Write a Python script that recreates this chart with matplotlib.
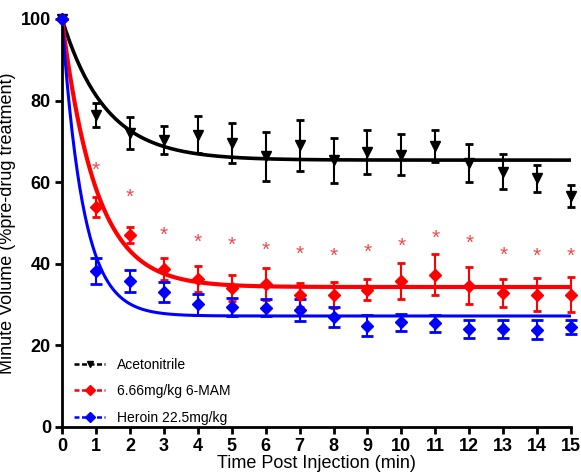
import numpy as np
import matplotlib
matplotlib.use('Agg')
import matplotlib.pyplot as plt

plt.rcParams['font.family'] = ['Liberation Sans', 'DejaVu Sans']

# 时间点 (min)
time = list(range(0, 16))

# Acetonitrile
acn_mean = [100, 76.5, 72, 70.3, 71.6, 69.6, 66.4, 69, 65.4, 67.4, 66.7, 68.9, 64.7, 62.5, 61, 56.6]
acn_sem = [0, 3, 4, 3.5, 4.5, 5, 6, 6.3, 5.5, 5.3, 5, 4, 4.6, 4.3, 3.3, 2.7]

# 6.66mg/kg 6-MAM
mam_mean = [100, 53.9, 47, 38.7, 36.3, 34.1, 35, 32.4, 32.4, 33.6, 35.8, 37.3, 34.6, 32.8, 32.4, 32.4]
mam_sem = [0, 2.5, 2, 2.7, 3.2, 3.2, 4, 3, 3.2, 2.6, 4.4, 5, 4.5, 3.5, 4, 4.3]

# Heroin 22.5mg/kg
her_mean = [100, 38.2, 35.8, 33.1, 30.1, 29.4, 29.2, 28.7, 27, 24.8, 25.7, 25.4, 24, 24, 23.8, 24.5]
her_sem = [0, 3.2, 2.7, 2.5, 2.6, 2.2, 2.1, 2.7, 2.4, 2.6, 2.1, 2.1, 2.1, 2.1, 2.3, 1.8]

# 显著性标记位置
star_time = list(range(1, 16))
star_y = [64, 57.2, 48, 46.3, 45.6, 44.4, 43.4, 42.9, 43.9, 45.3, 47.3, 46.1, 43.1, 42.9, 42.9]

# 单指数衰减拟合参数: (Y0, plateau, k)
fit_acn = (100, 65.4, 0.78)
fit_mam = (100, 34.3, 1.0)
fit_her = (100, 27.2, 1.6)

fig = plt.figure(figsize=(5.81, 4.73), dpi=100)
ax = fig.add_axes([0.1067, 0.0973, 0.8763, 0.8627])

t = np.linspace(0, 15, 400)


def decay(p):
    y0, plateau, k = p
    return plateau + (y0 - plateau) * np.exp(-k * t)


series = [
    (acn_mean, acn_sem, fit_acn, 'black', 'v', 7.5, 3.0, 2.0, 2.6, 'Acetonitrile'),
    (mam_mean, mam_sem, fit_mam, 'red', 'D', 6.0, 3.0, 2.0, 3.0, '6.66mg/kg 6-MAM'),
    (her_mean, her_sem, fit_her, 'blue', 'D', 6.0, 4.0, 2.0, 2.2, 'Heroin 22.5mg/kg'),
]

handles = []
for mean, sem, fit, color, marker, ms, cap, elw, lw, label in series:
    ax.plot(t, decay(fit), color=color, lw=lw, zorder=2)
    ax.errorbar(time, mean, yerr=sem, fmt=marker, color=color, ms=ms,
                elinewidth=1.5, capsize=cap, capthick=elw, zorder=3, clip_on=False)
    h, = ax.plot([], [], color=color, ls=(0, (2, 1)), lw=1.8, marker=marker, ms=5, label=label)
    handles.append(h)

# 星号标记
for x, y in zip(star_time, star_y):
    ax.annotate('*', (x, y), xytext=(0, -3), textcoords='offset points',
                color='#f04848', fontsize=15, ha='center', va='center')

ax.set_xlim(0, 15)
ax.set_ylim(0, 100)
ax.set_xticks(range(0, 16))
ax.set_yticks(range(0, 101, 20))
for s in ['top', 'right']:
    ax.spines[s].set_visible(False)
for s in ['left', 'bottom']:
    ax.spines[s].set_linewidth(2)
ax.tick_params(direction='out', length=5, width=2, labelsize=13, pad=3)
for lab in ax.get_xticklabels() + ax.get_yticklabels():
    lab.set_fontweight('bold')

ax.set_xlabel('Time Post Injection (min)', fontsize=13, labelpad=0)
ax.set_ylabel('Minute Volume (%pre-drug treatment)', fontsize=13, labelpad=3)

ax.legend(handles=handles, loc='lower left', bbox_to_anchor=(0.005, -0.018), frameon=False,
          fontsize=10, handlelength=2.2, handletextpad=0.9, labelspacing=0.9, borderaxespad=0.3)

fig.savefig('out.png', dpi=100)
